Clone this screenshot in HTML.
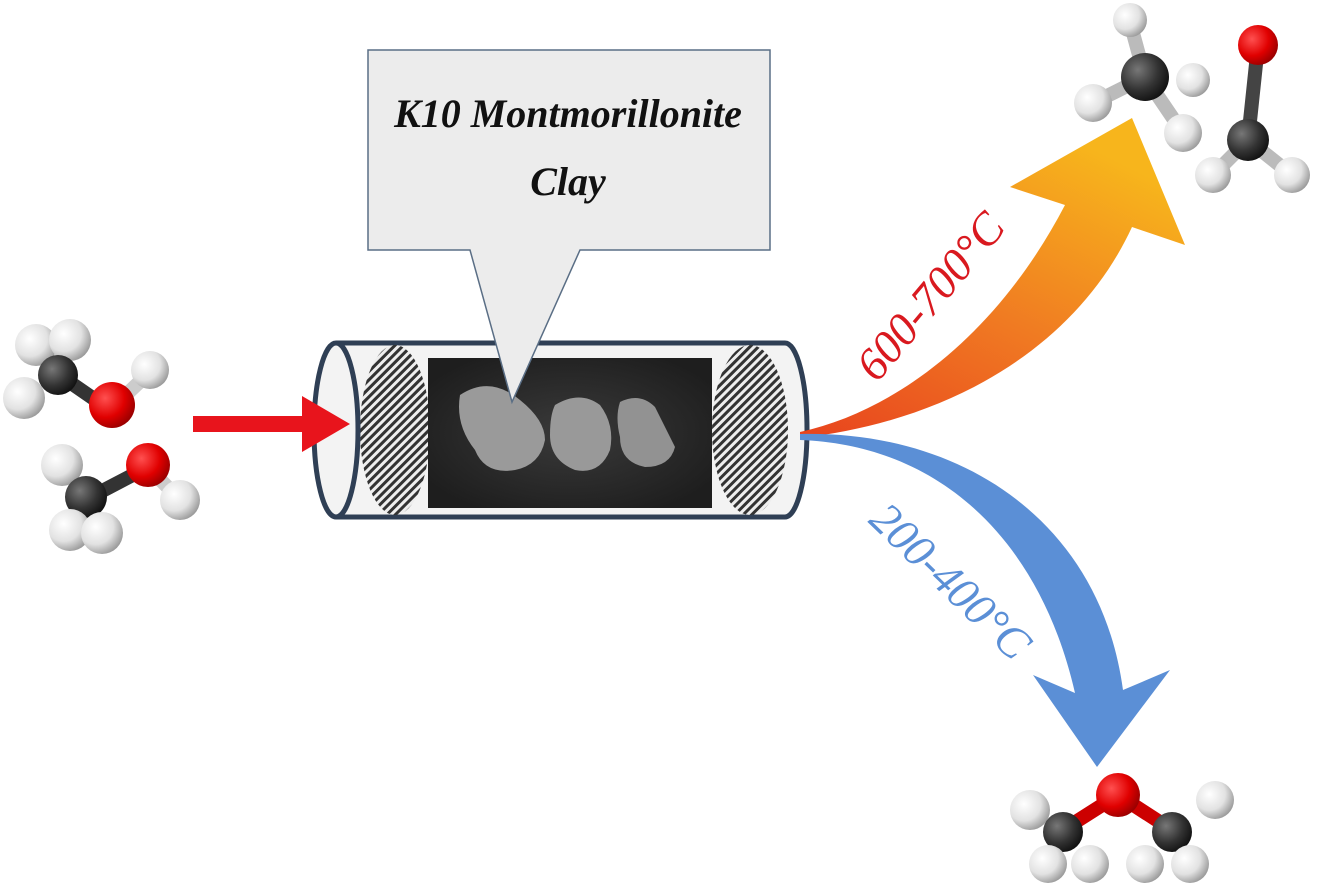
<!DOCTYPE html>
<html><head><style>html,body{margin:0;padding:0;background:#fff}svg{display:block}</style></head><body>
<svg width="1328" height="886" viewBox="0 0 1328 886" xmlns="http://www.w3.org/2000/svg">
<defs>
<radialGradient id="gH" cx="35%" cy="35%" r="70%"><stop offset="0" stop-color="#ffffff"/><stop offset="0.6" stop-color="#e2e2e2"/><stop offset="1" stop-color="#9a9a9a"/></radialGradient>
<radialGradient id="gC" cx="35%" cy="35%" r="70%"><stop offset="0" stop-color="#777"/><stop offset="0.6" stop-color="#333"/><stop offset="1" stop-color="#111"/></radialGradient>
<radialGradient id="gO" cx="35%" cy="35%" r="70%"><stop offset="0" stop-color="#ff5050"/><stop offset="0.6" stop-color="#e00000"/><stop offset="1" stop-color="#900"/></radialGradient>
<linearGradient id="gOr" x1="0" y1="1" x2="0.6" y2="0"><stop offset="0" stop-color="#e8431e"/><stop offset="0.5" stop-color="#f07a22"/><stop offset="1" stop-color="#f7b51c"/></linearGradient>
<pattern id="hatch" width="6" height="6" patternUnits="userSpaceOnUse" patternTransform="rotate(45)"><rect width="6" height="6" fill="#eee"/><rect width="3" height="6" fill="#333"/></pattern>
<radialGradient id="sem" cx="50%" cy="50%" r="60%"><stop offset="0" stop-color="#3a3a3a"/><stop offset="1" stop-color="#1e1e1e"/></radialGradient>
</defs>

<!-- Tube -->
<path d="M336,343 H785 A22,87 0 0 1 785,517 H336" fill="#f3f3f3" stroke="#2f3f55" stroke-width="5"/>
<ellipse cx="395" cy="430" rx="35" ry="85" fill="url(#hatch)"/>
<ellipse cx="750" cy="430" rx="38" ry="85" fill="url(#hatch)"/>
<rect x="428" y="358" width="284" height="150" fill="url(#sem)"/>
<path d="M460,395 q30,-20 60,5 q25,20 25,40 q-5,25 -30,30 q-30,5 -40,-20 q-20,-25 -15,-55z" fill="#9a9a9a"/>
<path d="M555,405 q25,-15 45,0 q15,20 10,45 q-10,25 -35,20 q-25,-10 -25,-35 q0,-20 5,-30z" fill="#999"/>
<path d="M620,402 q20,-10 35,5 q10,20 20,40 q-5,20 -30,20 q-25,-5 -25,-30 q-5,-20 0,-35z" fill="#929292"/>
<ellipse cx="336" cy="430" rx="22" ry="87" fill="#f3f3f3" stroke="#2f3f55" stroke-width="5"/>

<!-- Callout -->
<path d="M368,50 H770 V250 H580 L512,402 L470,250 H368 Z" fill="#ececec" stroke="#5a6e85" stroke-width="1.5"/>
<text x="568" y="127" text-anchor="middle" font-family="'Liberation Serif',serif" font-style="italic" font-weight="bold" font-size="40" fill="#111">K10 Montmorillonite</text>
<text x="568" y="195" text-anchor="middle" font-family="'Liberation Serif',serif" font-style="italic" font-weight="bold" font-size="40" fill="#111">Clay</text>

<!-- Red arrow -->
<path d="M193,416 H302 V396 L350,424 L302,452 V432 H193 Z" fill="#e8141c"/>

<!-- Orange arrow -->
<path d="M800,432 C900,410 1000,330 1065,205 L1010,187 L1132,118 L1185,245 L1132,227 C1080,340 960,420 800,438 Z" fill="url(#gOr)"/>
<!-- Blue arrow -->
<path d="M800,434 C960,430 1100,520 1123,690 L1170,670 L1097,767 L1033,675 L1075,693 C1040,540 940,445 800,440 Z" fill="#5b8fd6"/>

<text transform="translate(942,306) rotate(-50)" text-anchor="middle" font-family="'Liberation Serif',serif" font-style="italic" font-size="46" fill="#d9191f">600-700°C</text>
<text transform="translate(940,592) rotate(44)" text-anchor="middle" font-family="'Liberation Serif',serif" font-style="italic" font-size="46" fill="#5b8fd6">200-400°C</text>

<!-- molecules -->
<g stroke-width="14" stroke-linecap="round">
<!-- methanol 1 -->
<line x1="55" y1="372" x2="110" y2="410" stroke="#333"/><line x1="110" y1="410" x2="150" y2="372" stroke="#ccc"/>
<circle cx="36" cy="345" r="21" fill="url(#gH)"/><circle cx="70" cy="340" r="21" fill="url(#gH)"/>
<circle cx="58" cy="375" r="20" fill="url(#gC)"/><circle cx="24" cy="398" r="21" fill="url(#gH)"/>
<circle cx="150" cy="370" r="19" fill="url(#gH)"/><circle cx="112" cy="405" r="23" fill="url(#gO)"/>
<!-- methanol 2 -->
<line x1="85" y1="500" x2="148" y2="467" stroke="#333"/><line x1="148" y1="467" x2="180" y2="500" stroke="#ccc"/>
<circle cx="62" cy="465" r="21" fill="url(#gH)"/><circle cx="180" cy="500" r="20" fill="url(#gH)"/>
<circle cx="86" cy="497" r="21" fill="url(#gC)"/><circle cx="148" cy="465" r="22" fill="url(#gO)"/>
<circle cx="70" cy="530" r="21" fill="url(#gH)"/><circle cx="102" cy="533" r="21" fill="url(#gH)"/>
<!-- methane -->
<line x1="1145" y1="77" x2="1130" y2="22" stroke="#bbb"/>
<line x1="1145" y1="77" x2="1093" y2="103" stroke="#bbb"/>
<line x1="1145" y1="77" x2="1183" y2="133" stroke="#bbb"/>
<circle cx="1130" cy="20" r="17" fill="url(#gH)"/>
<circle cx="1193" cy="80" r="17" fill="url(#gH)"/>
<circle cx="1145" cy="77" r="24" fill="url(#gC)"/>
<circle cx="1093" cy="103" r="19" fill="url(#gH)"/><circle cx="1183" cy="133" r="19" fill="url(#gH)"/>
<!-- formaldehyde -->
<line x1="1258" y1="45" x2="1248" y2="140" stroke="#444"/>
<line x1="1248" y1="140" x2="1213" y2="175" stroke="#bbb"/><line x1="1248" y1="140" x2="1292" y2="175" stroke="#bbb"/>
<circle cx="1258" cy="45" r="20" fill="url(#gO)"/>
<circle cx="1213" cy="175" r="18" fill="url(#gH)"/><circle cx="1292" cy="175" r="18" fill="url(#gH)"/>
<circle cx="1248" cy="140" r="21" fill="url(#gC)"/>
<!-- DME -->
<line x1="1063" y1="830" x2="1118" y2="795" stroke="#c00"/><line x1="1118" y1="795" x2="1172" y2="830" stroke="#c00"/>
<circle cx="1030" cy="810" r="20" fill="url(#gH)"/><circle cx="1215" cy="800" r="19" fill="url(#gH)"/>
<circle cx="1118" cy="795" r="22" fill="url(#gO)"/>
<circle cx="1063" cy="832" r="20" fill="url(#gC)"/><circle cx="1172" cy="832" r="20" fill="url(#gC)"/>
<circle cx="1048" cy="864" r="19" fill="url(#gH)"/><circle cx="1090" cy="864" r="19" fill="url(#gH)"/>
<circle cx="1145" cy="864" r="19" fill="url(#gH)"/><circle cx="1190" cy="864" r="19" fill="url(#gH)"/>
</g>
</svg>
</body></html>
